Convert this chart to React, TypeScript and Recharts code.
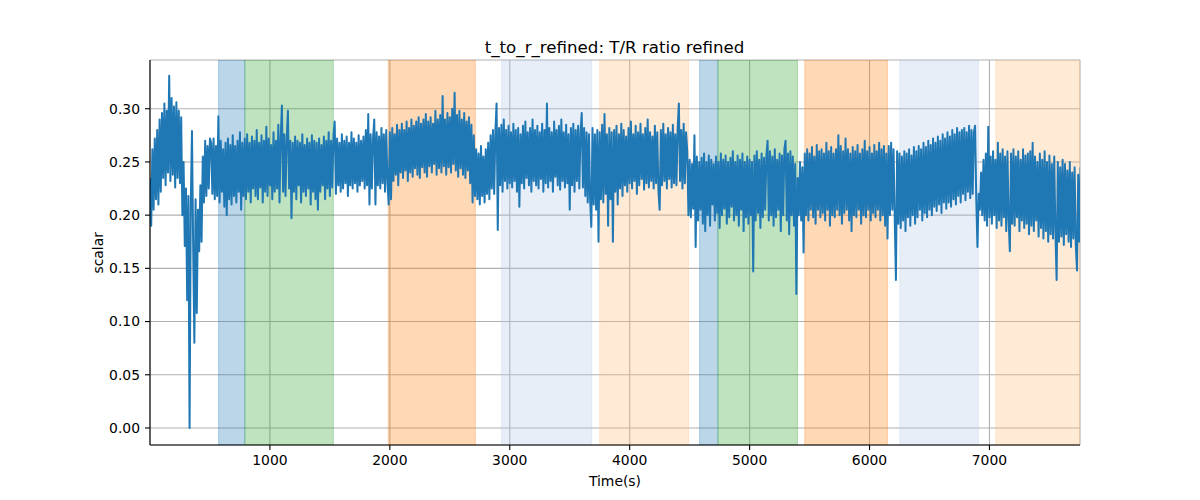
import React from 'react';
import { LineChart, Line, XAxis, YAxis, CartesianGrid, ReferenceArea } from 'recharts';

const STEP = 10;
const segStarts = [0, 510, 1990, 2720, 3690, 4490, 5400, 6160, 6910];

const segA = [0.235, 0.19, 0.262, 0.205, 0.272, 0.215, 0.28, 0.21, 0.29, 0.222,
  0.296, 0.235, 0.305, 0.228, 0.298, 0.24, 0.331, 0.232, 0.31, 0.238,
  0.302, 0.226, 0.306, 0.235, 0.298, 0.23, 0.292, 0.2, 0.25, 0.171,
  0.225, 0.12, 0.218, 0.0, 0.21, 0.279, 0.17, 0.08, 0.215, 0.108,
  0.205, 0.166, 0.228, 0.175, 0.255, 0.212, 0.27, 0.218, 0.265, 0.225,
  0.272];

const segB = [0.268, 0.22, 0.272, 0.215, 0.265, 0.218, 0.293, 0.212, 0.27, 0.222,
  0.262, 0.208, 0.268, 0.20, 0.272, 0.215, 0.266, 0.21, 0.275, 0.218,
  0.265, 0.212, 0.27, 0.222, 0.278, 0.205, 0.268, 0.218, 0.272, 0.215,
  0.276, 0.222, 0.268, 0.212, 0.274, 0.225, 0.27, 0.218, 0.28, 0.215,
  0.268, 0.226, 0.275, 0.212, 0.27, 0.222, 0.283, 0.218, 0.272, 0.228,
  0.266, 0.215, 0.278, 0.222, 0.27, 0.225, 0.285, 0.212, 0.274, 0.303,
  0.222, 0.276, 0.218, 0.272, 0.298, 0.225, 0.27, 0.197, 0.268, 0.222,
  0.274, 0.215, 0.27, 0.228, 0.268, 0.212, 0.276, 0.222, 0.266, 0.218,
  0.272, 0.225, 0.268, 0.21, 0.275, 0.222, 0.27, 0.215, 0.268, 0.205,
  0.272, 0.222, 0.266, 0.228, 0.274, 0.215, 0.27, 0.225, 0.278, 0.218,
  0.27, 0.226, 0.275, 0.288, 0.22, 0.272, 0.228, 0.268, 0.222, 0.276,
  0.225, 0.27, 0.23, 0.274, 0.218, 0.268, 0.228, 0.278, 0.225, 0.272,
  0.23, 0.268, 0.222, 0.275, 0.228, 0.27, 0.232, 0.274, 0.225, 0.28,
  0.228, 0.295, 0.21, 0.276, 0.225, 0.272, 0.29, 0.21, 0.278, 0.228,
  0.274, 0.225, 0.282, 0.23, 0.276, 0.222, 0.28, 0.232];

const segC = [0.21, 0.278, 0.215, 0.282, 0.232, 0.276, 0.238, 0.285, 0.228, 0.28,
  0.24, 0.286, 0.235, 0.28, 0.242, 0.288, 0.232, 0.282, 0.24, 0.29,
  0.236, 0.284, 0.244, 0.288, 0.238, 0.292, 0.235, 0.286, 0.245, 0.29,
  0.24, 0.295, 0.236, 0.288, 0.246, 0.292, 0.24, 0.286, 0.248, 0.298,
  0.238, 0.29, 0.244, 0.294, 0.24, 0.312, 0.246, 0.29, 0.238, 0.296,
  0.245, 0.292, 0.24, 0.3, 0.248, 0.315, 0.242, 0.294, 0.236, 0.298,
  0.244, 0.29, 0.238, 0.296, 0.235, 0.288, 0.242, 0.292, 0.23, 0.285,
  0.212, 0.275, 0.218];

const segD = [0.262, 0.215, 0.258, 0.21, 0.265, 0.218, 0.255, 0.212, 0.262, 0.22,
  0.268, 0.215, 0.275, 0.225, 0.28, 0.22, 0.278, 0.305, 0.186, 0.282,
  0.228, 0.285, 0.222, 0.29, 0.232, 0.28, 0.225, 0.284, 0.23, 0.278,
  0.226, 0.286, 0.232, 0.28, 0.222, 0.282, 0.208, 0.276, 0.23, 0.284,
  0.225, 0.288, 0.235, 0.278, 0.228, 0.282, 0.222, 0.29, 0.232, 0.28,
  0.228, 0.284, 0.225, 0.278, 0.234, 0.286, 0.222, 0.28, 0.23, 0.305,
  0.226, 0.282, 0.232, 0.278, 0.222, 0.288, 0.236, 0.28, 0.228, 0.284,
  0.224, 0.29, 0.232, 0.278, 0.226, 0.285, 0.23, 0.276, 0.205, 0.282,
  0.228, 0.286, 0.222, 0.28, 0.232, 0.284, 0.225, 0.278, 0.296, 0.226,
  0.282, 0.218, 0.278, 0.212, 0.276, 0.215, 0.189];

const segE = [0.282, 0.21, 0.276, 0.205, 0.28, 0.175, 0.278, 0.215, 0.285, 0.212,
  0.295, 0.22, 0.276, 0.19, 0.282, 0.215, 0.278, 0.175, 0.28, 0.222,
  0.284, 0.21, 0.276, 0.225, 0.286, 0.218, 0.28, 0.228, 0.274, 0.222,
  0.282, 0.23, 0.288, 0.225, 0.276, 0.232, 0.284, 0.22, 0.278, 0.228,
  0.286, 0.234, 0.276, 0.224, 0.282, 0.23, 0.29, 0.226, 0.278, 0.232,
  0.274, 0.225, 0.284, 0.23, 0.278, 0.222, 0.205, 0.28, 0.228, 0.286,
  0.232, 0.276, 0.225, 0.282, 0.234, 0.278, 0.226, 0.285, 0.23, 0.276,
  0.228, 0.282, 0.305, 0.232, 0.28, 0.225, 0.286, 0.23, 0.278, 0.26];

const segF = [0.2, 0.252, 0.198, 0.248, 0.206, 0.275, 0.17, 0.255, 0.195, 0.25,
  0.205, 0.254, 0.192, 0.258, 0.185, 0.25, 0.2, 0.256, 0.19, 0.252,
  0.21, 0.248, 0.195, 0.255, 0.202, 0.25, 0.188, 0.258, 0.2, 0.252,
  0.206, 0.256, 0.192, 0.25, 0.198, 0.254, 0.208, 0.26, 0.195, 0.25,
  0.2, 0.256, 0.19, 0.252, 0.205, 0.258, 0.185, 0.25, 0.198, 0.255,
  0.192, 0.252, 0.2, 0.25, 0.147, 0.256, 0.195, 0.26, 0.202, 0.252,
  0.188, 0.258, 0.198, 0.254, 0.205, 0.256, 0.27, 0.195, 0.26, 0.2,
  0.255, 0.19, 0.262, 0.198, 0.252, 0.205, 0.258, 0.185, 0.256, 0.2,
  0.262, 0.27, 0.195, 0.258, 0.182, 0.26, 0.2, 0.255, 0.19, 0.248,
  0.126];

const segG = [0.235, 0.2, 0.25, 0.195, 0.245, 0.165, 0.258, 0.2, 0.262, 0.195,
  0.258, 0.205, 0.264, 0.198, 0.255, 0.192, 0.266, 0.205, 0.26, 0.198,
  0.262, 0.202, 0.258, 0.195, 0.268, 0.205, 0.26, 0.19, 0.264, 0.2,
  0.258, 0.198, 0.262, 0.205, 0.275, 0.2, 0.265, 0.192, 0.26, 0.202,
  0.272, 0.205, 0.262, 0.195, 0.258, 0.185, 0.264, 0.2, 0.26, 0.198,
  0.266, 0.205, 0.258, 0.192, 0.262, 0.2, 0.27, 0.198, 0.26, 0.205,
  0.264, 0.195, 0.258, 0.202, 0.266, 0.198, 0.26, 0.205, 0.268, 0.195,
  0.262, 0.2, 0.265, 0.19, 0.258, 0.178];

const segH = [0.265, 0.2, 0.268, 0.205, 0.262, 0.198, 0.139, 0.26, 0.192, 0.258,
  0.188, 0.255, 0.195, 0.26, 0.185, 0.258, 0.198, 0.262, 0.19, 0.256,
  0.2, 0.264, 0.192, 0.26, 0.198, 0.265, 0.205, 0.262, 0.195, 0.268,
  0.202, 0.264, 0.198, 0.27, 0.205, 0.266, 0.2, 0.272, 0.208, 0.268,
  0.204, 0.274, 0.21, 0.27, 0.202, 0.276, 0.212, 0.272, 0.206, 0.278,
  0.212, 0.274, 0.208, 0.28, 0.215, 0.276, 0.21, 0.282, 0.218, 0.278,
  0.212, 0.28, 0.22, 0.282, 0.214, 0.278, 0.222, 0.284, 0.216, 0.28,
  0.22, 0.278, 0.284, 0.215, 0.17];

const segK = [0.22, 0.205, 0.24, 0.2, 0.252, 0.195, 0.258, 0.19, 0.283, 0.198,
  0.255, 0.192, 0.26, 0.2, 0.252, 0.188, 0.268, 0.195, 0.258, 0.19,
  0.262, 0.198, 0.255, 0.185, 0.26, 0.195, 0.166, 0.258, 0.192, 0.262,
  0.19, 0.255, 0.198, 0.26, 0.185, 0.252, 0.195, 0.262, 0.188, 0.256,
  0.192, 0.258, 0.182, 0.26, 0.19, 0.268, 0.185, 0.255, 0.195, 0.25,
  0.18, 0.258, 0.188, 0.252, 0.178, 0.26, 0.185, 0.25, 0.175, 0.256,
  0.182, 0.248, 0.178, 0.255, 0.185, 0.139, 0.25, 0.175, 0.245, 0.18,
  0.252, 0.172, 0.248, 0.182, 0.242, 0.175, 0.25, 0.17, 0.24, 0.178,
  0.245, 0.172, 0.148, 0.238, 0.175, 0.245];

const segments = [segA, segB, segC, segD, segE, segF, segG, segH, segK];

const spanStarts = [572, 791, 1987, 2932, 3750, 4583, 4736, 5460, 6252, 7053];
const spanEnds = [791, 1529, 2713, 3683, 4490, 4736, 5399, 6149, 6908, 7755];
const spanColors = ['#1f77b4', '#2ca02c', '#ff7f0e', '#aec7e8', '#ffbb78',
  '#1f77b4', '#2ca02c', '#ff7f0e', '#aec7e8', '#ffbb78'];

const xTicks = [1000, 2000, 3000, 4000, 5000, 6000, 7000];
const yTicks = [0, 0.05, 0.1, 0.15, 0.2, 0.25, 0.3];

const TITLE = 't_to_r_refined: T/R ratio refined';
const X_LABEL = 'Time(s)';
const Y_LABEL = 'scalar';

const data = segments.flatMap((vals, s) =>
  vals.map((v, i) => ({ t: segStarts[s] + i * STEP, v }))
);

const FONT = 'DejaVu Sans';
const tickStyle = { fill: '#000', fontSize: 13.9, fontFamily: FONT };

export default function App() {
  return (
    <div style={{ position: 'absolute', left: 0, top: 0, width: 1200, height: 500, background: '#fff', fontFamily: FONT }}>
      <LineChart width={1200} height={500} data={data}
        margin={{ top: 60, right: 120, bottom: 25, left: 90 }}>
        <CartesianGrid stroke="#b0b0b0" strokeWidth={1.1} />
        {spanStarts.map((s, k) => (
          <ReferenceArea key={k} x1={s} x2={spanEnds[k]} fill={spanColors[k]} fillOpacity={0.3}
            stroke={spanColors[k]} strokeOpacity={0.3} strokeWidth={1} ifOverflow="hidden" />
        ))}
        <XAxis dataKey="t" type="number" domain={[0, 7755]} ticks={xTicks} allowDataOverflow
          tick={tickStyle} tickSize={5} tickMargin={5} height={30}
          axisLine={{ stroke: '#000', strokeWidth: 1.1 }} tickLine={{ stroke: '#000', strokeWidth: 1.1 }} />
        <XAxis xAxisId="top" orientation="top" type="number" domain={[0, 7755]} tick={false} tickLine={false}
          height={0} axisLine={{ stroke: '#000', strokeWidth: 1.1 }} />
        <YAxis type="number" domain={[-0.016, 0.3458]} ticks={yTicks} allowDataOverflow
          tickFormatter={(v: number) => v.toFixed(2)} tick={tickStyle} tickSize={5} tickMargin={5} width={60}
          axisLine={{ stroke: '#000', strokeWidth: 1.1 }} tickLine={{ stroke: '#000', strokeWidth: 1.1 }} />
        <YAxis yAxisId="right" orientation="right" type="number" domain={[0, 1]} tick={false} tickLine={false}
          width={0} axisLine={{ stroke: '#000', strokeWidth: 1.1 }} />
        <Line type="linear" dataKey="v" stroke="#1f77b4" strokeWidth={2} dot={false}
          strokeLinejoin="round" isAnimationActive={false} />
      </LineChart>
      <svg width={1200} height={500} style={{ position: 'absolute', left: 0, top: 0, pointerEvents: 'none' }}>
        <text x={614.5} y={52.7} textAnchor="middle" fontSize={16.67} fontFamily={FONT} fill="#000">{TITLE}</text>
        <text x={615} y={485.5} textAnchor="middle" fontSize={13.9} fontFamily={FONT} fill="#000">{X_LABEL}</text>
        <text x={0} y={0} textAnchor="middle" fontSize={13.9} fontFamily={FONT} fill="#000"
          transform="translate(103,252.8) rotate(-90)">{Y_LABEL}</text>
      </svg>
    </div>
  );
}
